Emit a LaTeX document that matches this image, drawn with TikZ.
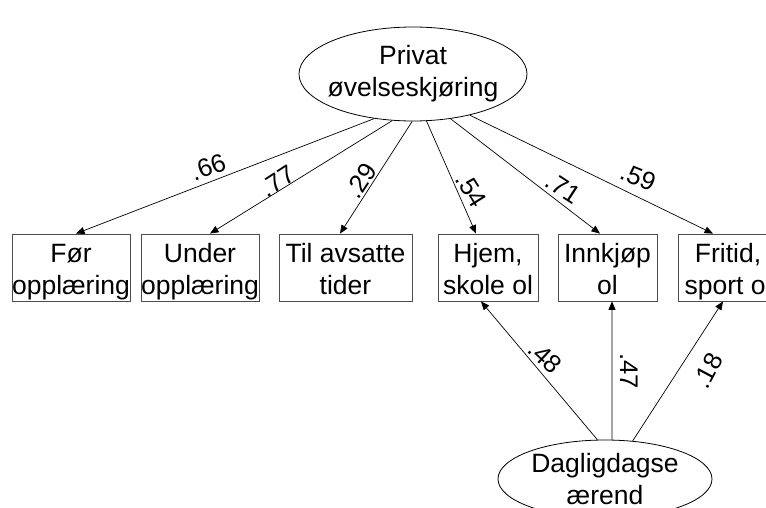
\documentclass[tikz,border=0pt]{standalone}
\usepackage{fontspec}
\setmainfont{Liberation Sans}
\usetikzlibrary{shapes.geometric,arrows.meta}
% struts that fix the first-line height and last-line depth in the boxes
\newcommand\boxtopstrut{\rule{0pt}{28pt}}
\newcommand\boxbotstrut{\rule[-6pt]{0pt}{6pt}}
\begin{document}
\begin{tikzpicture}[x=1pt,y=-1pt,
  every node/.style={font=\fontsize{26.5}{32}\selectfont},
  latent/.style={draw, ellipse, inner xsep=-6pt, inner ysep=-6pt, align=center, line width=0.8pt},
  indicator/.style={draw=black!70, rectangle, minimum height=67pt, inner sep=0pt, align=center, line width=0.8pt},
  loading/.style={line width=0.7pt, -{Triangle[length=8.5pt,width=7pt]}},
  weight/.style={inner sep=0pt, font=\fontsize{25.5}{30}\selectfont}]
\useasboundingbox (0,0) rectangle (766,508);
\clip (0,0) rectangle (766,508);

% latent factors
\node[latent, minimum width=228pt, minimum height=94pt] (priv) at (413,74) {Privat\\øvelseskjøring};
\node[latent, minimum width=214pt, minimum height=78pt] (dagl) at (605,479) {Dagligdagse\\ærend};

% observed indicators
\node[indicator, minimum width=112pt] (foer)  at (71,267.5)    {\boxtopstrut Før\\opplæring\boxbotstrut};
\node[indicator, minimum width=118pt] (under) at (200,267.5)   {\boxtopstrut Under\\opplæring\boxbotstrut};
\node[indicator, minimum width=133pt] (tider) at (345.5,267.5) {\boxtopstrut Til avsatte\\tider\boxbotstrut};
\node[indicator, minimum width=100pt] (hjem)  at (488,267.5)   {\boxtopstrut Hjem,\\skole ol\boxbotstrut};
\node[indicator, minimum width=99pt]  (innk)  at (607.5,267.5) {\boxtopstrut Innkjøp\\ol\boxbotstrut};
\node[indicator, minimum width=100pt] (frit)  at (728,267.5)   {\boxtopstrut Fritid,\\sport ol\boxbotstrut};

% loadings of the first factor
\draw[loading] (priv.229) -- ([xshift=5pt]foer.north);
\draw[loading] (priv.246) -- ([xshift=10pt]under.north);
\draw[loading] (priv.269) -- ([xshift=-5.5pt]tider.north);
\draw[loading] (priv.286) -- ([xshift=-12pt]hjem.north);
\draw[loading] (priv.310) -- ([xshift=-7.5pt]innk.north);
\draw[loading] (priv.324) -- ([xshift=-15pt]frit.north);

% loadings of the second factor
\draw[loading] (dagl.101) -- ([xshift=-7pt]hjem.south);
\draw[loading] (dagl.80)  -- ([xshift=4.5pt]innk.south);
\draw[loading] (dagl.54)  -- ([xshift=-5pt]frit.south);

% standardized weights
\node[weight, rotate=20]  (w1) at (208,167) {.66};
\node[weight, rotate=33]  (w2) at (278,181) {.77};
\node[weight, rotate=57]  (w3) at (361,181) {.29};
\node[weight, rotate=-58] (w4) at (471,190) {.54};
\node[weight, rotate=-33] (w5) at (563,188) {.71};
\node[weight, rotate=-22] (w6) at (638,177) {.59};
\node[weight, rotate=-43] (w7) at (545,357) {.48};
\node[weight, rotate=-90] (w8) at (629,371) {.47};
\node[weight, rotate=62]  (w9) at (708,371) {.18};
\end{tikzpicture}
\end{document}
